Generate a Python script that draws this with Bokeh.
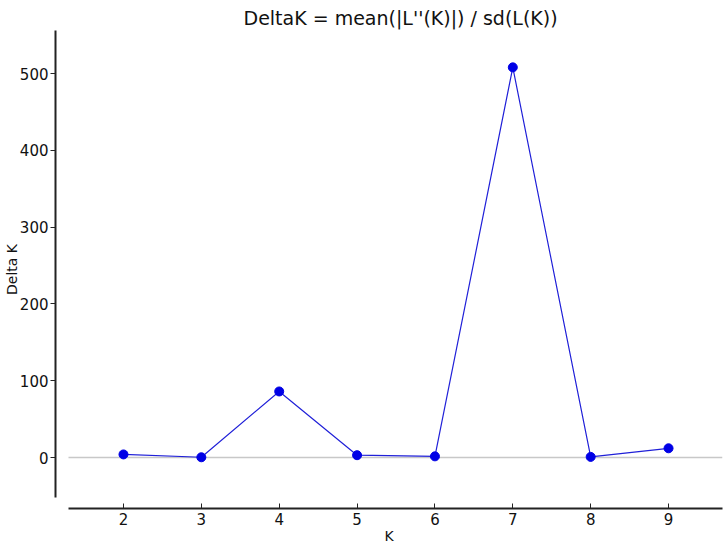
from bokeh.plotting import figure
from bokeh.models import LinearAxis, Range1d, FixedTicker, ColumnDataSource
from bokeh.embed import file_html
from bokeh.resources import INLINE

# data
K = [2, 3, 4, 5, 6, 7, 8, 9]
delta_k = [4.0, 0.3, 86.0, 3.0, 1.5, 508.0, 0.8, 12.0]
x_ticks = [2, 3, 4, 5, 6, 7, 8, 9]
y_ticks = [0, 100, 200, 300, 400, 500]

FONT = "DejaVu Sans"
x_bounds = (1.294, 9.693)
y_bounds = (-52.0, 556.0)

p = figure(frame_width=667, frame_height=478,
           x_range=Range1d(1.127, 9.693), y_range=Range1d(-66.4, 556.0),
           x_axis_location=None, y_axis_location=None,
           output_backend="svg", toolbar_location=None,
           min_border_left=55, min_border_top=30, min_border_right=4, min_border_bottom=8)

p.title.text = "DeltaK = mean(|L''(K)|) / sd(L(K))"
p.title.align = "left"
p.title.offset = 188
p.title.text_font = FONT
p.title.text_font_size = "19px"
p.title.text_font_style = "normal"
p.title.text_color = "#111111"
p.title.standoff = 4

p.xgrid.visible = False
p.ygrid.visible = False
p.outline_line_color = None

yax = LinearAxis(ticker=FixedTicker(ticks=y_ticks), bounds=y_bounds,
                 axis_label="Delta K")
yax.axis_line_color = "#222222"
yax.axis_line_width = 2
yax.major_tick_out = 5
yax.major_tick_in = 0
yax.major_tick_line_color = "#222222"
yax.minor_tick_line_color = None
yax.major_label_text_font = FONT
yax.major_label_text_font_size = "15px"
yax.major_label_text_color = "#111111"
yax.major_label_standoff = 2
yax.axis_label_text_font = FONT
yax.axis_label_text_font_size = "14px"
yax.axis_label_text_font_style = "normal"
yax.axis_label_text_color = "#111111"
yax.axis_label_standoff = -3
p.add_layout(yax, "left")

xax = LinearAxis(ticker=FixedTicker(ticks=x_ticks), bounds=x_bounds,
                 axis_label="K")
xax.axis_line_color = "#222222"
xax.axis_line_width = 2
xax.major_tick_out = 0
xax.major_tick_in = 5
xax.major_tick_line_color = "#222222"
xax.minor_tick_line_color = None
xax.major_label_text_font = FONT
xax.major_label_text_font_size = "15px"
xax.major_label_text_color = "#111111"
xax.major_label_standoff = 4
xax.axis_label_text_font = FONT
xax.axis_label_text_font_size = "14px"
xax.axis_label_text_font_style = "normal"
xax.axis_label_text_color = "#111111"
xax.axis_label_standoff = 0
p.add_layout(xax, "below")

# zero reference line
p.segment(x0=[x_bounds[0]], y0=[0], x1=[x_bounds[1]], y1=[0],
          line_color="#c8c8c8", line_width=1.5)

src = ColumnDataSource(dict(k=K, dk=delta_k))
p.line("k", "dk", source=src, line_color="#2020d8", line_width=1.2)
p.scatter("k", "dk", source=src, size=9, fill_color="#0000e6",
          line_color="#0000e6")

open("out.html", "w").write(file_html(p, INLINE))
